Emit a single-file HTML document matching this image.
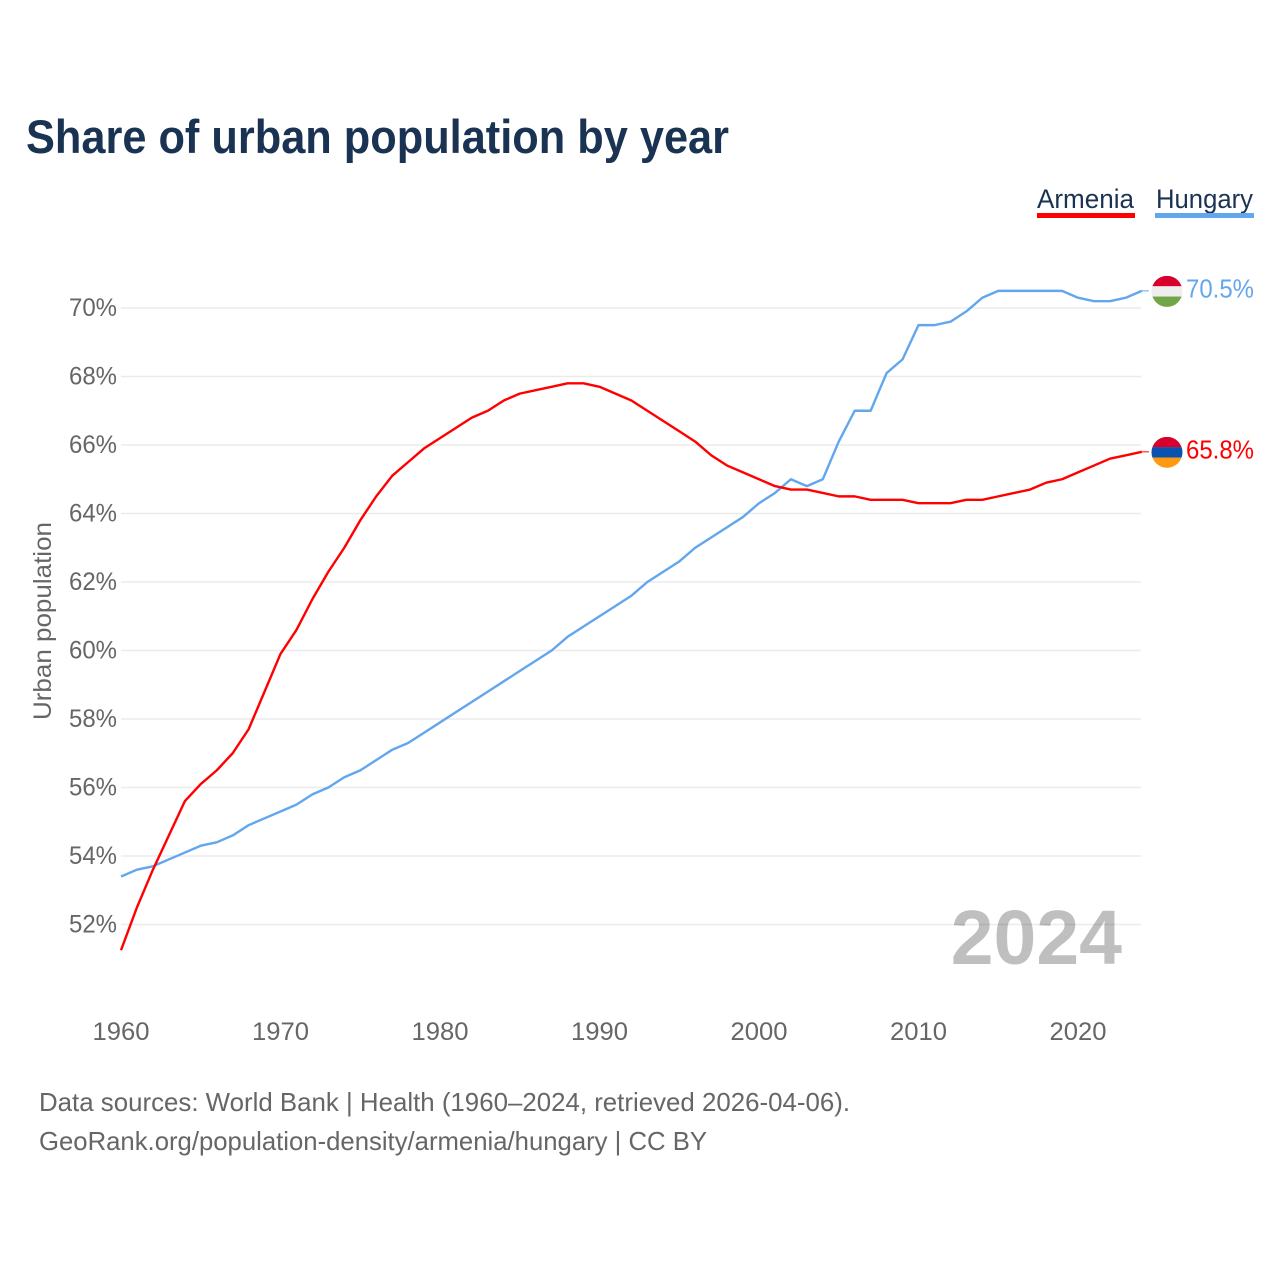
<!DOCTYPE html>
<html lang="en">
<head>
<meta charset="utf-8">
<title>Share of urban population by year</title>
<style>
html,body{margin:0;padding:0;background:#fff;}
svg{display:block;font-family:"Liberation Sans",sans-serif;}
</style>
</head>
<body>
<svg id="chart" xmlns="http://www.w3.org/2000/svg" width="1280" height="1280" viewBox="0 0 1280 1280">
<rect width="1280" height="1280" fill="#fff"/>
<text x="26" y="153" font-size="47" font-weight="700" fill="#1a3352" textLength="703" lengthAdjust="spacingAndGlyphs">Share of urban population by year</text>
<g id="grid"></g>
<g id="yticks"></g>
<g id="xticks"></g>
<text transform="translate(51,621) rotate(-90)" text-anchor="middle" font-size="25" fill="#666" textLength="198" lengthAdjust="spacingAndGlyphs">Urban population</text>
<text id="yearLabel" x="1122" y="964" text-anchor="end" font-size="77" font-weight="700" fill="#000" fill-opacity="0.25">2024</text>
<g id="series"></g>
<g id="ends"></g>
<g>
<text x="1037" y="208" font-size="27" fill="#1a3352" textLength="97" lengthAdjust="spacingAndGlyphs">Armenia</text>
<rect x="1037" y="213" width="98" height="5" fill="#ff0000"/>
</g>
<g>
<text x="1156" y="208" font-size="27" fill="#1a3352" textLength="97" lengthAdjust="spacingAndGlyphs">Hungary</text>
<rect x="1155" y="213" width="99" height="5" fill="#62a6ee"/>
</g>
<text x="39" y="1111" font-size="26" fill="#666" textLength="811" lengthAdjust="spacingAndGlyphs">Data sources: World Bank | Health (1960–2024, retrieved 2026-04-06).</text>
<text x="39" y="1150" font-size="26" fill="#666" textLength="668" lengthAdjust="spacingAndGlyphs">GeoRank.org/population-density/armenia/hungary | CC BY</text>
</svg>
<script>
const years = [1960,1961,1962,1963,1964,1965,1966,1967,1968,1969,1970,1971,1972,1973,1974,1975,1976,1977,1978,1979,1980,1981,1982,1983,1984,1985,1986,1987,1988,1989,1990,1991,1992,1993,1994,1995,1996,1997,1998,1999,2000,2001,2002,2003,2004,2005,2006,2007,2008,2009,2010,2011,2012,2013,2014,2015,2016,2017,2018,2019,2020,2021,2022,2023,2024];
const armenia = [51.25,52.5,53.6,54.6,55.6,56.1,56.5,57.0,57.7,58.8,59.9,60.6,61.5,62.3,63.0,63.8,64.5,65.1,65.5,65.9,66.2,66.5,66.8,67.0,67.3,67.5,67.6,67.7,67.8,67.8,67.7,67.5,67.3,67.0,66.7,66.4,66.1,65.7,65.4,65.2,65.0,64.8,64.7,64.7,64.6,64.5,64.5,64.4,64.4,64.4,64.3,64.3,64.3,64.4,64.4,64.5,64.6,64.7,64.9,65.0,65.2,65.4,65.6,65.7,65.8];
const hungary = [53.4,53.6,53.7,53.9,54.1,54.3,54.4,54.6,54.9,55.1,55.3,55.5,55.8,56.0,56.3,56.5,56.8,57.1,57.3,57.6,57.9,58.2,58.5,58.8,59.1,59.4,59.7,60.0,60.4,60.7,61.0,61.3,61.6,62.0,62.3,62.6,63.0,63.3,63.6,63.9,64.3,64.6,65.0,64.8,65.0,66.1,67.0,67.0,68.1,68.5,69.5,69.5,69.6,69.9,70.3,70.5,70.5,70.5,70.5,70.5,70.3,70.2,70.2,70.3,70.5];
const yTickValues = [52,54,56,58,60,62,64,66,68,70];
const xTickValues = [1960,1970,1980,1990,2000,2010,2020];

const NS = 'http://www.w3.org/2000/svg';
const xScale = year => 121 + (year - 1960) * 15.95;
const yScale = value => 308 + (70 - value) * 34.25;
const svgEl = (tag, attrs) => {
  const el = document.createElementNS(NS, tag);
  for (const key in attrs) el.setAttribute(key, attrs[key]);
  return el;
};

const gridGroup = document.getElementById('grid');
const yTickGroup = document.getElementById('yticks');
yTickValues.forEach(v => {
  const line = svgEl('line', {x1: 121, x2: 1141, y1: yScale(v), y2: yScale(v), stroke: '#ebebeb', 'stroke-width': 1.5});
  
  
  gridGroup.appendChild(line);
  const label = svgEl('text', {x: 117, y: yScale(v) + 8, 'text-anchor': 'end', 'font-size': 25, fill: '#666', textLength: 48, lengthAdjust: 'spacingAndGlyphs'});
  
  
  label.textContent = v + '%';
  yTickGroup.appendChild(label);
});

const xTickGroup = document.getElementById('xticks');
xTickValues.forEach(year => {
  const label = svgEl('text', {x: xScale(year), y: 1040, 'text-anchor': 'middle', 'font-size': 25, fill: '#666', textLength: 57, lengthAdjust: 'spacingAndGlyphs'});
  
  
  label.textContent = year;
  xTickGroup.appendChild(label);
});

const seriesGroup = document.getElementById('series');
const endGroup = document.getElementById('ends');
const defs = svgEl('defs', {});
document.getElementById('chart').appendChild(defs);

function drawSeries(values, color, key, bands) {
  const points = values.map((v, i) => xScale(years[i]).toFixed(2) + ',' + yScale(v).toFixed(2)).join(' ');
  const line = svgEl('polyline', {points: points, fill: 'none', stroke: color, 'stroke-width': 2.4, 'stroke-linejoin': 'round'});
  
  
  seriesGroup.appendChild(line);

  const last = values[values.length - 1];
  const ly = yScale(last);
  const cx = 1167;
  const cy = ly + 0.5;
  const r = 15.5;
  const leader = svgEl('line', {x1: xScale(years[years.length - 1]), x2: 1149, y1: ly, y2: ly, stroke: color, 'stroke-width': 1});
  
  
  endGroup.appendChild(leader);

  const clip = svgEl('clipPath', {id: 'clip-' + key});
  clip.appendChild(svgEl('circle', {cx: cx, cy: cy, r: r}));
  defs.appendChild(clip);
  const flag = svgEl('g', {'clip-path': 'url(#clip-' + key + ')'});
  
  
  bands.forEach((band, i) => {
    flag.appendChild(svgEl('rect', {x: cx - r, y: cy - r + i * (2 * r / 3), width: 2 * r, height: 2 * r / 3 + 0.2, fill: band}));
  });
  endGroup.appendChild(flag);

  const label = svgEl('text', {x: 1186, y: ly + 6.5, 'font-size': 26, fill: color, textLength: 68, lengthAdjust: 'spacingAndGlyphs'});
  
  
  label.textContent = last.toFixed(1) + '%';
  endGroup.appendChild(label);
}

drawSeries(hungary, '#62a6ee', 'hungary', ['#d8002c', '#eeeeee', '#72a548']);
drawSeries(armenia, '#ff0000', 'armenia', ['#d8002c', '#0a52b0', '#ff9a10']);
</script>
</body>
</html>
